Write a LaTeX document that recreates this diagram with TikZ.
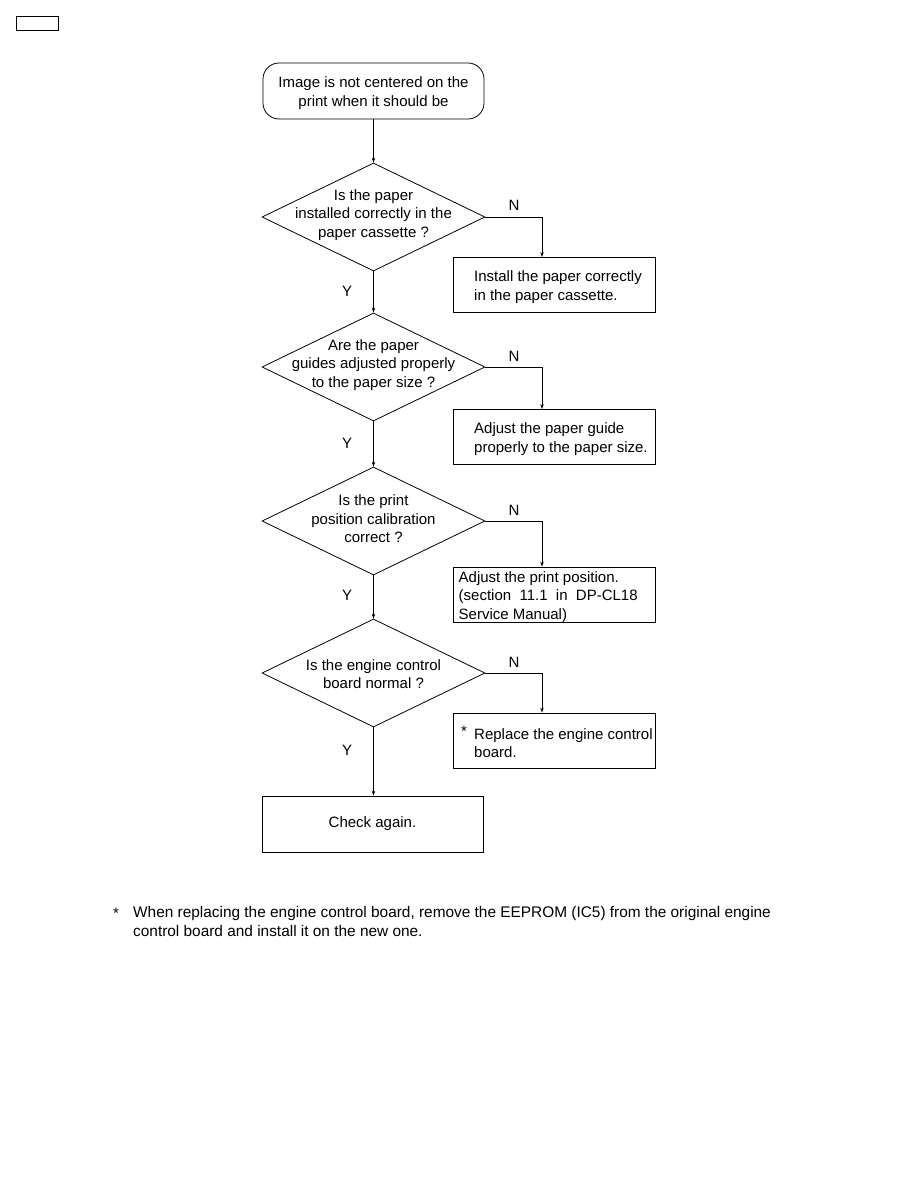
\documentclass[tikz,border=0pt]{standalone}
\usepackage{fontspec}
\setmainfont{Liberation Sans}
\usetikzlibrary{shapes.geometric,arrows.meta}
\begin{document}
\begin{tikzpicture}[x=1pt,y=-1pt,
  every node/.style={font=\fontsize{15}{18.6}\selectfont},
  line/.style={draw=black,line width=0.8pt},
  arr/.style={line,-{Stealth[length=5pt,width=3.5pt]}},
  term/.style={line,rounded corners=16pt,minimum width=221pt,minimum height=56pt,inner sep=0pt},
  dia/.style={line,diamond,minimum width=223pt,minimum height=108pt,inner sep=0pt},
  dtext/.style={align=center,inner sep=0pt},
  sbox/.style={line,minimum width=202pt,minimum height=55pt,inner sep=0pt},
  btext/.style={align=left,anchor=west,inner sep=0pt},
  lab/.style={inner sep=0pt}]
\useasboundingbox (0,0) rectangle (918,1188);
\fill[white] (0,0) rectangle (918,1188);
\node[line,minimum width=42pt,minimum height=14pt,inner sep=0pt] (corner) at (37,23) {};

\node[term] (start) at (373.5,91) {};
\node[dtext] at (373.5,93) {Image is not centered on the\\print when it should be};

\node[dia] (d1) at (373.5,217) {};
\node[dtext] at (373.5,215) {Is the paper\\installed correctly in the\\paper cassette ?};
\node[sbox] (b1) at (554,285) {};
\node[btext] at (474,287) {Install the paper correctly\\in the paper cassette.};

\node[dia] (d2) at (373.5,367) {};
\node[dtext] at (373.5,365) {Are the paper\\guides adjusted properly\\to the paper size ?};
\node[sbox] (b2) at (554,437) {};
\node[btext] at (474,439) {Adjust the paper guide\\properly to the paper size.};

\node[dia] (d3) at (373.5,521) {};
\node[dtext] at (373.5,519) {Is the print\\position calibration\\correct ?};
\node[sbox] (b3) at (554,594.5) {};
\node[btext,text width=196pt,align=justify] at (458.5,597) {Adjust the print position.\\(section\ \ 11.1\ \ in\ \ DP-CL18\\Service Manual)};

\node[dia] (d4) at (373.5,673) {};
\node[dtext] at (373.5,674) {Is the engine control\\board normal ?};
\node[sbox] (b4) at (554,740.5) {};
\node[lab,anchor=west] at (461,731) {*};
\node[btext] at (474,743) {Replace the engine control\\board.};

\node[term,rounded corners=0pt] (check) at (372.5,824) {};
\node[dtext] at (check) {Check again.};

\draw[arr] (start) -- (d1);
\draw[arr] (d1) -- (d2);
\draw[arr] (d2) -- (d3);
\draw[arr] (d3) -- (d4);
\draw[arr] (d4.south) -- (d4.south |- check.north);

\coordinate (n1) at (542,217);
\coordinate (n2) at (542,367);
\coordinate (n3) at (542,521);
\coordinate (n4) at (542,673);
\draw[arr] (d1.east) -- (n1) -- (b1.north -| n1);
\draw[arr] (d2.east) -- (n2) -- (b2.north -| n2);
\draw[arr] (d3.east) -- (n3) -- (b3.north -| n3);
\draw[arr] (d4.east) -- (n4) -- (b4.north -| n4);

\node[lab] (ln1) at (514,205) {N};
\node[lab] (ln2) at (514,356) {N};
\node[lab] (ln3) at (514,510) {N};
\node[lab] (ln4) at (514,662) {N};
\node[lab] (ly1) at (347,291) {Y};
\node[lab] (ly2) at (347,443) {Y};
\node[lab] (ly3) at (347,595) {Y};
\node[lab] (ly4) at (347,750) {Y};

\node[lab,anchor=west] (star) at (113,913) {*};
\node[btext,font=\fontsize{15.4}{19}\selectfont] (foot) at (133,921.5) {When replacing the engine control board, remove the EEPROM (IC5) from the original engine\\control board and install it on the new one.};
\end{tikzpicture}
\end{document}
